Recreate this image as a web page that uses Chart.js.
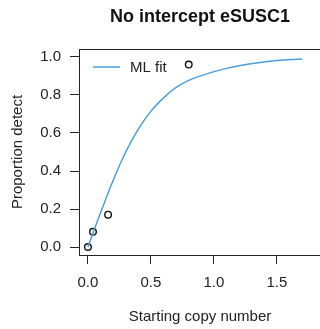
<!DOCTYPE html>
<html>
<head>
<meta charset="utf-8">
<script src="https://cdn.jsdelivr.net/npm/chart.js@4"></script>
<style>
  html, body { margin: 0; padding: 0; background: #fff; overflow: hidden; }
  #wrap { width: 330px; height: 329px; }
</style>
</head>
<body>
<div id="wrap"><canvas id="myChart" width="330" height="329"></canvas></div>
<script>
// observed points (starting copy number, proportion detected)
var obsX = [0, 0.04, 0.16, 0.80];
var obsY = [0, 0.08, 0.17, 0.96];

// ML fit curve
var fitX = [0, 0.1, 0.2, 0.3, 0.4, 0.5, 0.6, 0.7, 0.8, 0.9, 1.0, 1.1, 1.2, 1.35, 1.5, 1.70];
var fitY = [0, 0.18, 0.35, 0.50, 0.62, 0.715, 0.785, 0.84, 0.877, 0.902, 0.923, 0.94, 0.954, 0.97, 0.981, 0.989];

var xTicks = [0, 0.5, 1.0, 1.5];
var yTicks = [0, 0.2, 0.4, 0.6, 0.8, 1.0];

var titleText = 'No intercept eSUSC1';
var legendText = 'ML fit';

var FONT = "'Liberation Sans', Arial, sans-serif";
var INK = '#222';
var BLUE = '#4a9fdc';

function pts(xs, ys) {
  return xs.map(function (x, i) { return { x: x, y: ys[i] }; });
}

// box, title and legend drawn like base R graphics
var rPlot = {
  id: 'rPlot',
  afterDraw: function (chart) {
    var c = chart.ctx, a = chart.chartArea;
    c.save();
    c.strokeStyle = INK;
    c.lineWidth = 1;
    c.strokeRect(Math.round(a.left) + 0.5, Math.round(a.top) + 0.5,
      Math.round(a.right - a.left), Math.round(a.bottom - a.top));

    c.fillStyle = '#111';
    c.font = 'bold 18px ' + FONT;
    c.textAlign = 'center';
    c.textBaseline = 'middle';
    c.fillText(titleText, (a.left + a.right) / 2, 17);

    c.strokeStyle = BLUE;
    c.lineWidth = 1.5;
    c.beginPath();
    c.moveTo(a.left + 14, a.top + 18);
    c.lineTo(a.left + 41, a.top + 18);
    c.stroke();
    c.fillStyle = INK;
    c.font = '15px ' + FONT;
    c.textAlign = 'left';
    c.fillText(legendText, a.left + 51, a.top + 19);
    c.restore();
  }
};

var ctx = document.getElementById('myChart').getContext('2d');
var myChart = new Chart(ctx, {
  type: 'scatter',
  data: {
    datasets: [{
      label: legendText,
      data: pts(fitX, fitY),
      showLine: true,
      borderColor: BLUE,
      borderWidth: 1.5,
      pointRadius: 0,
      tension: 0.4,
      fill: false
    }, {
      label: 'observed',
      data: pts(obsX, obsY),
      showLine: false,
      pointRadius: 3.3,
      pointBorderWidth: 1.4,
      pointBorderColor: '#111',
      pointBackgroundColor: 'rgba(0,0,0,0)'
    }]
  },
  options: {
    responsive: false,
    animation: false,
    layout: { padding: { top: 49, right: 9, left: 0, bottom: 0 } },
    plugins: {
      legend: { display: false },
      title: { display: false },
      tooltip: { enabled: false }
    },
    scales: {
      x: {
        type: 'linear',
        min: -0.071,
        max: 1.85,
        afterBuildTicks: function (s) { s.ticks = xTicks.map(function (v) { return { value: v }; }); },
        afterFit: function (s) { s.height = 74; },
        grid: { display: true, drawOnChartArea: false, drawTicks: true, tickLength: 9, color: INK },
        border: { display: false },
        ticks: {
          color: INK, padding: 10, maxRotation: 0,
          font: { family: FONT, size: 15 },
          callback: function (v) { return Number(v).toFixed(1); }
        },
        title: {
          display: true, text: 'Starting copy number', color: INK,
          font: { family: FONT, size: 15 }, padding: { top: 0, bottom: 3 }
        }
      },
      y: {
        type: 'linear',
        min: -0.042,
        max: 1.042,
        afterBuildTicks: function (s) { s.ticks = yTicks.map(function (v) { return { value: v }; }); },
        afterFit: function (s) { s.width = 79; },
        grid: { display: true, drawOnChartArea: false, drawTicks: true, tickLength: 9, color: INK },
        border: { display: false },
        ticks: {
          color: INK, padding: 9,
          font: { family: FONT, size: 15 },
          callback: function (v) { return Number(v).toFixed(1); }
        },
        title: {
          display: true, text: 'Proportion detect', color: INK,
          font: { family: FONT, size: 15 }, padding: { top: 9, bottom: 0 }
        }
      }
    }
  },
  plugins: [rPlot]
});
</script>
</body>
</html>
